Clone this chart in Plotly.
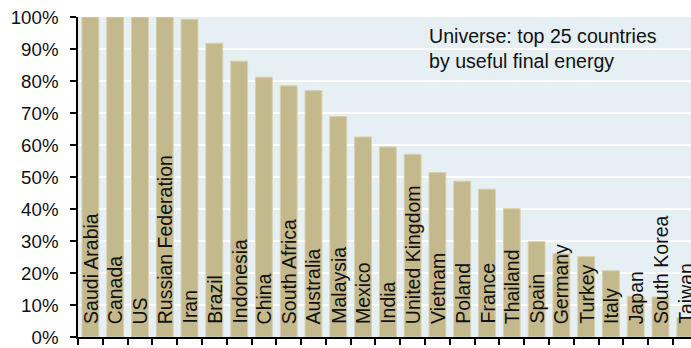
import plotly.graph_objects as go

# Share of each country's useful final energy (fraction, 0-1)
countries = [
    "Saudi Arabia", "Canada", "US", "Russian Federation", "Iran", "Brazil",
    "Indonesia", "China", "South Africa", "Australia", "Malaysia", "Mexico",
    "India", "United Kingdom", "Vietnam", "Poland", "France", "Thailand",
    "Spain", "Germany", "Turkey", "Italy", "Japan", "South Korea", "Taiwan",
]
shares = [
    1.000, 1.000, 1.000, 1.000, 0.993, 0.918,
    0.862, 0.812, 0.785, 0.770, 0.689, 0.625,
    0.594, 0.571, 0.514, 0.487, 0.462, 0.401,
    0.298, 0.261, 0.251, 0.207, 0.127, 0.125, 0.060,
]
y_ticks = [i / 10 for i in range(11)]
note = "Universe: top 25 countries<br>by useful final energy"

FONT = "Liberation Sans, Arial, sans-serif"
BAR = "#C4B98C"
BG = "#E6EFF3"

fig = go.Figure()
fig.add_trace(go.Bar(
    x=countries,
    y=shares,
    marker=dict(color=BAR, line=dict(color="#D9D0AE", width=1)),
    width=0.68,
    hoverinfo="skip",
))

# Country names written upward from the foot of each bar
for name in countries:
    fig.add_annotation(
        x=name, y=0, xref="x", yref="y",
        text=name, textangle=-90,
        xanchor="center", yanchor="bottom",
        yshift=11, showarrow=False,
        font=dict(family=FONT, size=19.5, color="#111111"),
    )

fig.add_annotation(
    x=0.57, y=0.98, xref="paper", yref="paper",
    text=note, align="left", xanchor="left", yanchor="top",
    showarrow=False,
    font=dict(family=FONT, size=19.6, color="#111111"),
)

fig.update_layout(
    width=691, height=348,
    margin=dict(l=77.6, r=0, t=17, b=8.7),
    paper_bgcolor="white",
    plot_bgcolor=BG,
    showlegend=False,
    font=dict(family=FONT, size=18.7, color="#111111"),
)
fig.update_xaxes(
    type="category",
    range=[-0.5, 24.23],
    showticklabels=False,
    ticks="outside", tickson="boundaries", ticklen=6, tickwidth=1.5,
    tickcolor="black",
    showline=True, linecolor="black", linewidth=1.5,
    showgrid=False, zeroline=False,
)
fig.update_yaxes(
    range=[0, 1],
    tickvals=y_ticks, tickformat=".0%",
    ticks="outside", ticklen=6, tickwidth=1.5, tickcolor="black",
    ticklabelstandoff=8, ticklabeloverflow="allow",
    showline=True, linecolor="black", linewidth=1.5,
    showgrid=True, gridcolor="white", gridwidth=2,
    zeroline=False,
)

fig.write_html("out.html")
